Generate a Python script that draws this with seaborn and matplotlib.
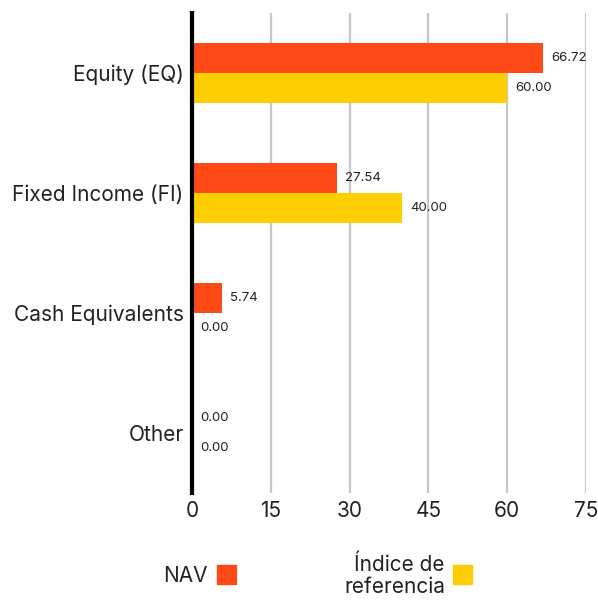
import matplotlib
matplotlib.use("Agg")
import matplotlib.pyplot as plt
from matplotlib.patches import Rectangle
import pandas as pd
import seaborn as sns

categories = ["Equity (EQ)", "Fixed Income (FI)", "Cash Equivalents", "Other"]
nav = [66.72, 27.54, 5.74, 0.00]
benchmark = [60.00, 40.00, 0.00, 0.00]
series = ["NAV", "Índice de\nreferencia"]
colors = ["#FF4A17", "#FFCE00"]
xticks = [0, 15, 30, 45, 60, 75]

df = pd.DataFrame({
    "category": categories * 2,
    "value": nav + benchmark,
    "series": [series[0]] * len(categories) + [series[1]] * len(categories),
})

sns.set_style("white")
plt.rcParams["font.family"] = ["Inter", "DejaVu Sans"]

fig = plt.figure(figsize=(5.98, 6.01), dpi=100)
ax = fig.add_axes([192 / 598, 1 - 493 / 601, (586 - 192) / 598, (493 - 13) / 601])

sns.barplot(data=df, x="value", y="category", hue="series", orient="h",
            palette=colors, width=0.5, legend=False, ax=ax, saturation=1,
            linewidth=0)

for c in ax.containers:
    ax.bar_label(c, fmt="%.2f", padding=6, fontsize=9.5, color="#222222")

ax.set_xlim(0, 75)
ax.set_ylim(3.5, -0.5)
ax.set_xticks(xticks)
ax.set_xlabel("")
ax.set_ylabel("")
ax.xaxis.grid(True, color="#c8c8c8", linewidth=1.6)
ax.set_axisbelow(True)
ax.tick_params(axis="both", length=0, labelsize=15, colors="#222222")
ax.tick_params(axis="y", pad=6)
ax.tick_params(axis="x", pad=6)
for s in ["top", "right", "bottom"]:
    ax.spines[s].set_visible(False)
ax.spines["left"].set_linewidth(3)
ax.spines["left"].set_color("black")
ax.spines["left"].set_zorder(5)

# legend
fig.text(208 / 598, 1 - 576 / 601, series[0], ha="right", va="center", fontsize=15, color="#222222")
fig.patches.append(Rectangle((217 / 598, 1 - 584 / 601), 19 / 598, 19 / 601,
                             transform=fig.transFigure, color=colors[0]))
fig.text(445 / 598, 1 - 576 / 601, series[1], ha="right", va="center", fontsize=15,
         color="#222222", linespacing=1.15)
fig.patches.append(Rectangle((453 / 598, 1 - 584 / 601), 19 / 598, 19 / 601,
                             transform=fig.transFigure, color=colors[1]))

fig.savefig("out.png", dpi=100)
